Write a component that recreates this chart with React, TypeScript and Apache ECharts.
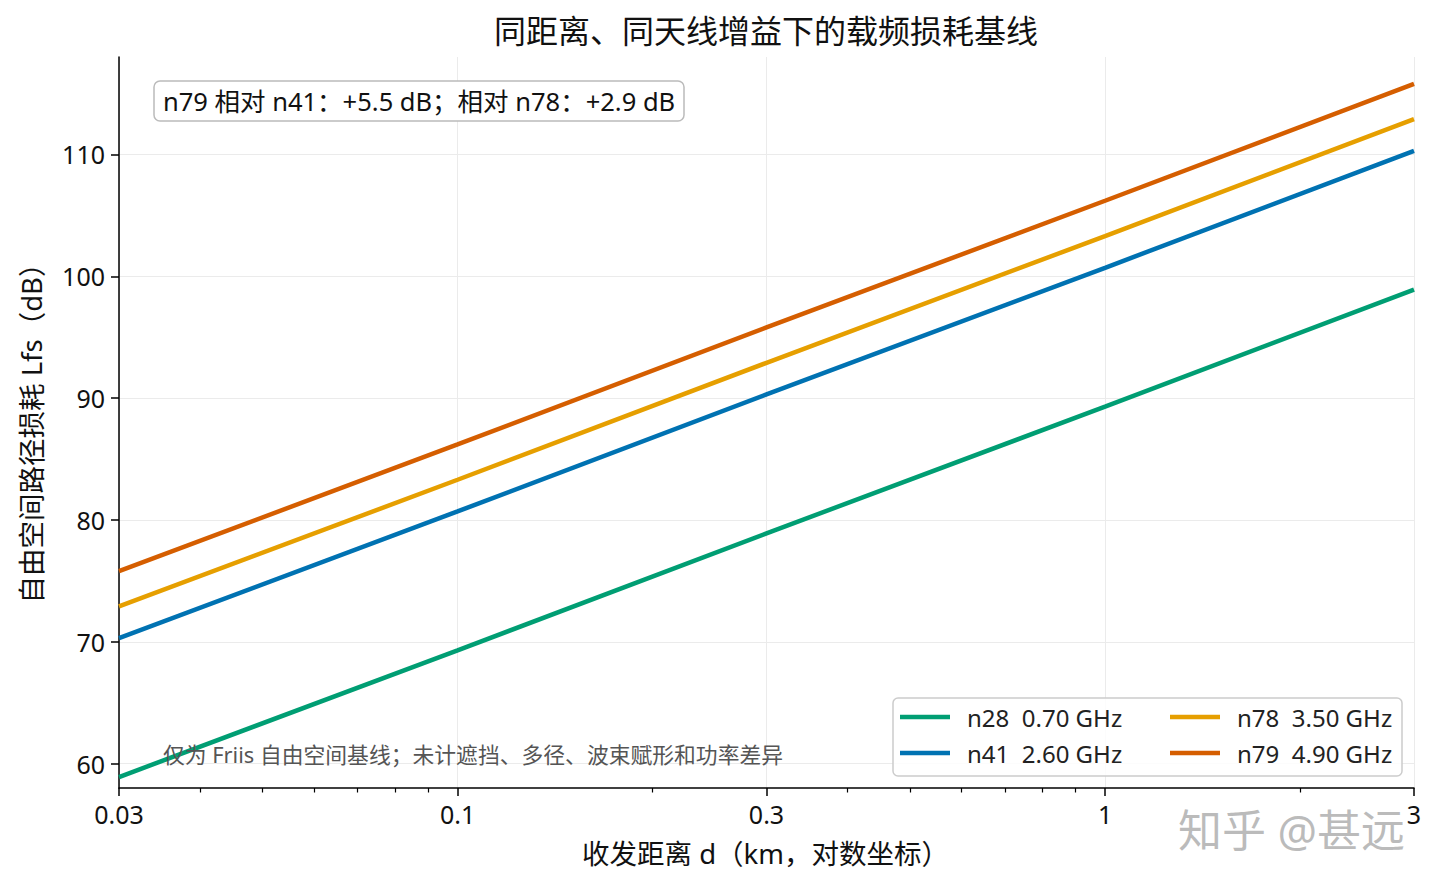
import React, { useEffect, useRef } from "react";
import * as echarts from "echarts";

// ---- data ----
const distancesKm = [0.03, 0.1, 0.3, 1, 3];
const lossN28 = [58.9, 69.3, 78.9, 89.3, 98.9];
const lossN41 = [70.3, 80.7, 90.3, 100.7, 110.3];
const lossN78 = [72.9, 83.3, 92.9, 103.3, 112.9];
const lossN79 = [75.8, 86.2, 95.8, 106.2, 115.8];

const seriesNames = ["n28  0.70 GHz", "n41  2.60 GHz", "n78  3.50 GHz", "n79  4.90 GHz"];
const seriesValues = [lossN28, lossN41, lossN78, lossN79];
const seriesColors = ["#009E73", "#0072B2", "#E69F00", "#D55E00"];

const xMajorTicks = [0.03, 0.1, 0.3, 1, 3];
const xMinorTicks = [0.04, 0.05, 0.06, 0.07, 0.08, 0.09, 0.2, 0.4, 0.5, 0.6, 0.7, 0.8, 0.9, 2];
const yTicks = [60, 70, 80, 90, 100, 110];

const titleText = "同距离、同天线增益下的载频损耗基线";
const noteText = "n79 相对 n41：+5.5 dB；相对 n78：+2.9 dB";
const footText = "仅为 Friis 自由空间基线；未计遮挡、多径、波束赋形和功率差异";
const xName = "收发距离 d（km，对数坐标）";
const yName = "自由空间路径损耗 Lfs（dB）";
const watermark = "知乎 @甚远";

const FONT = '"Noto Sans", "Noto Sans CJK SC", sans-serif';

function fmt(v: number): string {
  return String(parseFloat(Number(v).toPrecision(6)));
}

export default function App() {
  const ref = useRef<HTMLDivElement | null>(null);

  useEffect(() => {
    if (!ref.current) return;
    const chart = echarts.init(ref.current, null, { renderer: "svg" });

    const axisLineStyle = { color: "#000", width: 1.5 };
    const legendCommon = {
      orient: "vertical",
      top: 704,
      padding: 0,
      itemWidth: 50,
      itemHeight: 4.5,
      itemGap: 10,
      icon: "rect",
      selectedMode: false,
      textStyle: { fontSize: 24, color: "#222", lineHeight: 26, fontFamily: FONT, padding: [0, 0, 0, 12] },
    };

    const option: any = {
      animation: false,
      backgroundColor: "#ffffff",
      textStyle: { fontFamily: FONT },
      title: [
        {
          text: titleText,
          left: 494,
          top: 14,
          padding: 0,
          textStyle: { fontSize: 32, fontWeight: "normal", color: "#111", fontFamily: FONT },
        },
        {
          text: noteText,
          left: 154,
          top: 81,
          padding: [7, 9, 8, 9],
          backgroundColor: "#ffffff",
          borderColor: "#bbbbbb",
          borderWidth: 1.5,
          borderRadius: 6,
          textStyle: { fontSize: 25.5, fontWeight: "normal", color: "#111", fontFamily: FONT },
        },
      ],
      grid: { left: 119, right: 26, top: 57, bottom: 101, containLabel: false },
      legend: [
        { ...legendCommon, left: 900, data: [seriesNames[0], seriesNames[1]] },
        { ...legendCommon, left: 1170, data: [seriesNames[2], seriesNames[3]] },
      ],
      xAxis: [
        {
          type: "log",
          logBase: 10,
          min: 0.03,
          max: 3,
          position: "bottom",
          name: xName,
          nameLocation: "middle",
          nameGap: 52,
          nameTextStyle: { fontSize: 27.5, color: "#111", fontFamily: FONT, padding: [0, 2, 0, 0] },
          axisLine: { show: true, lineStyle: axisLineStyle },
          axisTick: { show: true, customValues: xMajorTicks, length: 8, lineStyle: axisLineStyle },
          minorTick: { show: false },
          axisLabel: { customValues: xMajorTicks, formatter: fmt, fontSize: 25, color: "#111", margin: 13, fontFamily: FONT },
          splitLine: { show: true, lineStyle: { color: "#ebebeb", width: 1 } },
        },
        {
          type: "log",
          logBase: 10,
          min: 0.03,
          max: 3,
          position: "bottom",
          axisLine: { show: false },
          axisTick: { show: true, customValues: xMinorTicks, length: 4.5, lineStyle: { color: "#000", width: 1.2 } },
          minorTick: { show: false },
          axisLabel: { show: false },
          splitLine: { show: false },
        },
      ],
      yAxis: {
        type: "value",
        min: 58,
        max: 118,
        name: yName,
        nameLocation: "middle",
        nameGap: 74,
        nameTextStyle: { fontSize: 27.5, color: "#111", fontFamily: FONT, padding: [0, 8, 0, 0] },
        axisLine: { show: true, lineStyle: axisLineStyle },
        axisTick: { show: true, customValues: yTicks, length: 8, lineStyle: axisLineStyle },
        axisLabel: { customValues: yTicks, fontSize: 25, color: "#111", margin: 14, fontFamily: FONT },
        splitLine: { show: true, lineStyle: { color: "#ebebeb", width: 1 } },
      },
      series: seriesNames.map((name, i) => ({
        name,
        type: "line",
        xAxisIndex: 0,
        data: distancesKm.map((d, j) => [d, seriesValues[i][j]]),
        symbol: "none",
        showSymbol: false,
        lineStyle: { width: 4.5, color: seriesColors[i] },
        itemStyle: { color: seriesColors[i] },
        z: 2,
      })),
      graphic: [
        {
          type: "rect",
          z: 3,
          shape: { x: 893, y: 698, width: 509, height: 78, r: 5 },
          style: { fill: "rgba(255,255,255,0.85)", stroke: "#cccccc", lineWidth: 1.5 },
        },
        {
          type: "text",
          z: 5,
          x: 163,
          y: 754,
          style: { text: footText, fontSize: 21.8, fill: "#555555", verticalAlign: "middle", fontFamily: FONT },
        },
        {
          type: "text",
          z: 5,
          x: 1178,
          y: 830,
          style: { text: watermark, fontSize: 44, fill: "rgba(165,165,165,0.75)", verticalAlign: "middle", fontFamily: FONT },
        },
      ],
    };

    chart.setOption(option);
    return () => {
      chart.dispose();
    };
  }, []);

  return (
    <div
      ref={ref}
      style={{ position: "fixed", left: 0, top: 0, width: "1440px", height: "889px", background: "#fff" }}
    />
  );
}
